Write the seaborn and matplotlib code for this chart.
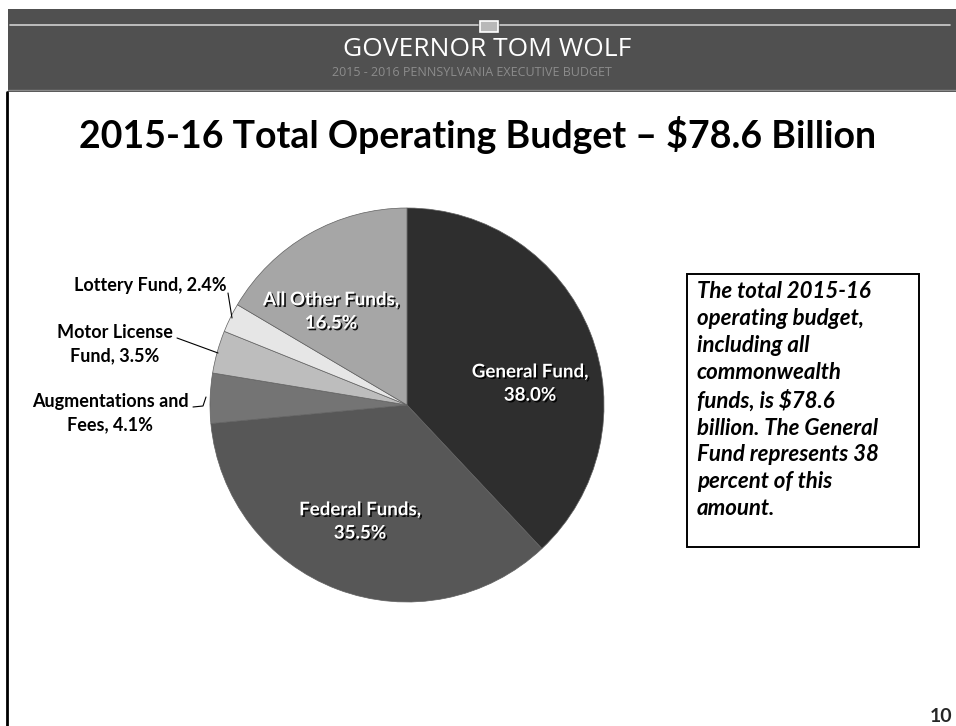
import numpy as np
import matplotlib.pyplot as plt
import matplotlib.patheffects as pe
from matplotlib.patches import Rectangle
import seaborn as sns

# data
funds = ["General Fund", "Federal Funds", "Augmentations and\nFees", "Motor License\nFund",
         "Lottery Fund", "All Other Funds"]
shares = [38.0, 35.5, 4.1, 3.5, 2.4, 16.5]
greys = ["#2e2e2e", "#575757", "#747474", "#bdbdbd", "#e6e6e6", "#a6a6a6"]

note = ("The total 2015-16\noperating budget,\nincluding all\ncommonwealth\n"
        "funds, is $78.6\nbillion. The General\nFund represents 38\npercent of this\namount.")

sns.set_theme(style="white")
plt.rcParams['font.family'] = ['Lato', 'DejaVu Sans']

W, H = 956, 726
fig = plt.figure(figsize=(W / 100, H / 100), dpi=100)
fig.patch.set_facecolor("white")


def fx(x):
    return x / W


def fy(y):
    return 1 - y / H


# header band
fig.patches.append(Rectangle((fx(8), fy(92)), fx(948), 83 / H, transform=fig.transFigure,
                             facecolor="#505050", edgecolor="none", zorder=0))
fig.add_artist(plt.Line2D([fx(10), fx(478)], [fy(25), fy(25)], transform=fig.transFigure,
                          color="#d0d0d0", lw=1.2))
fig.add_artist(plt.Line2D([fx(500), fx(950)], [fy(25), fy(25)], transform=fig.transFigure,
                          color="#d0d0d0", lw=1.2))
fig.add_artist(plt.Line2D([fx(8), fx(956)], [fy(90), fy(90)], transform=fig.transFigure,
                          color="#8a8a8a", lw=1))
fig.patches.append(Rectangle((fx(480), fy(32)), fx(18), 11 / H, transform=fig.transFigure,
                             facecolor="#b8b8b8", edgecolor="white", lw=1.2, zorder=2))
fig.text(fx(487), fy(49), "GOVERNOR TOM WOLF", ha="center", va="center", color="white",
         fontsize=19, fontfamily="Open Sans")
fig.text(fx(472), fy(72), "2015 - 2016 PENNSYLVANIA EXECUTIVE BUDGET", ha="center",
         va="center", color="#8c8c8c", fontsize=9, fontfamily="Open Sans")

# left slide border
fig.add_artist(plt.Line2D([fx(7), fx(7)], [fy(92), fy(726)], transform=fig.transFigure,
                          color="black", lw=2))

fig.text(fx(478), fy(135), "2015-16 Total Operating Budget \u2013 $78.6 Billion", ha="center",
         va="center", fontsize=27, fontweight="bold", color="black")

# pie
cx, cy, r = 407, 405, 197
ax = fig.add_axes([fx(cx - r), fy(cy + r), 2 * r / W, 2 * r / H])
wedges, _ = ax.pie(shares, colors=greys, startangle=90, counterclock=False, radius=1,
                   wedgeprops=dict(linewidth=0.5, edgecolor="#606060"))
ax.set_xlim(-1, 1)
ax.set_ylim(-1, 1)
ax.set_aspect("auto")
ax.axis("off")

shadow = [pe.withSimplePatchShadow(offset=(1.2, -1.2), shadow_rgbFace="black", alpha=0.9)]
inside = {0: (0.624, 0.109), 1: (-0.239, -0.591), 5: (-0.386, 0.475)}
for i, (px, py) in inside.items():
    ax.text(px, py, f"{funds[i]},\n{shares[i]:.1f}%", ha="center", va="center",
            color="white", fontsize=13.5, fontweight="bold", linespacing=1.45,
            path_effects=shadow)

# outside labels with leader lines, positions in pixels
outside = {
    4: ((227, 285), "right", [(228, 293), (232, 318)]),
    3: ((115, 344), "center", [(177, 338), (218, 353)]),
    2: ((110, 413), "center", [(193, 407), (203, 406), (206, 397)]),
}
for i, ((tx, ty), ha, pts) in outside.items():
    fig.text(fx(tx), fy(ty), f"{funds[i]}, {shares[i]:.1f}%", ha=ha, va="center",
             fontsize=13, fontweight="bold", color="black", linespacing=1.45)
    xs = [fx(p[0]) for p in pts]
    ys = [fy(p[1]) for p in pts]
    fig.add_artist(plt.Line2D(xs, ys, transform=fig.transFigure, color="black", lw=0.8))

# note box
fig.patches.append(Rectangle((fx(687), fy(547)), fx(919 - 687), (547 - 274) / H,
                             transform=fig.transFigure, facecolor="white",
                             edgecolor="black", lw=1.4))
fig.text(fx(697), fy(281), note, ha="left", va="top", fontsize=16, fontweight="bold",
         fontstyle="italic", color="black", linespacing=1.35)

fig.text(fx(952), fy(716), "10", ha="right", va="center", fontsize=14, fontweight="bold")

fig.savefig("out.png", dpi=100)
